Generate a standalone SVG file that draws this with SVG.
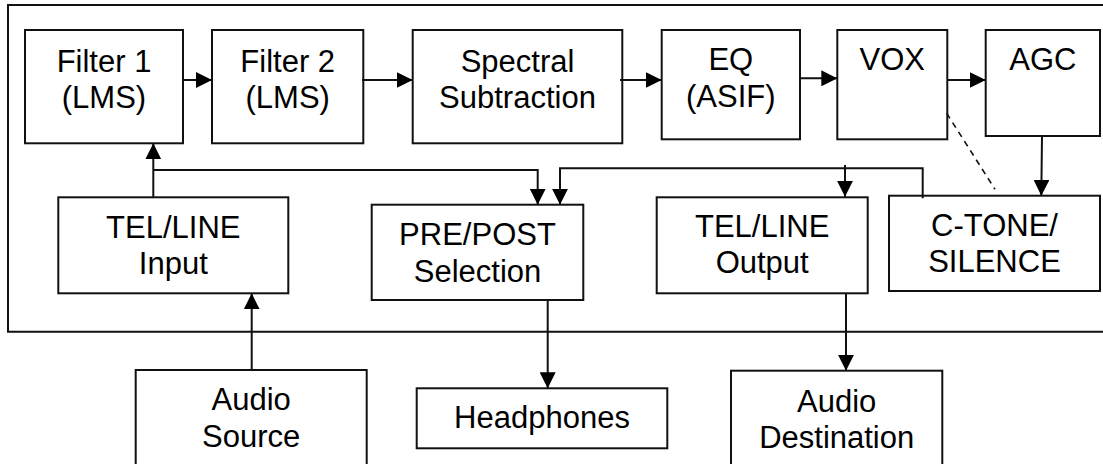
<svg xmlns="http://www.w3.org/2000/svg" width="1103" height="464" viewBox="0 0 1103 464">
<style>
.box{fill:#fff;stroke:#111;stroke-width:2}
.t{font-family:"Liberation Sans",Arial,sans-serif;font-size:31px;fill:#000;text-anchor:middle}
.ln{fill:none;stroke:#111;stroke-width:2}
.ar{fill:none;stroke:#111;stroke-width:2;marker-end:url(#ah)}
.dash{fill:none;stroke:#111;stroke-width:1.6;stroke-dasharray:6 5}
</style>
<defs>
<marker id="ah" markerUnits="userSpaceOnUse" markerWidth="16" markerHeight="16" viewBox="0 0 14 14" refX="14" refY="7" orient="auto">
<path d="M0,0 L14,7 L0,14 Z" fill="#000"/>
</marker>
</defs>
<rect width="1103" height="464" fill="#fff"/>
<path id="frame" class="ln" d="M1106,5 H8 V331.7 H1106"/>
<g id="filter1"><rect class="box" x="25" y="30" width="158" height="113.3"/><text class="t" x="104" y="71.7">Filter 1</text><text class="t" x="104" y="108.3">(LMS)</text></g>
<g id="filter2"><rect class="box" x="212" y="30" width="151.3" height="113.3"/><text class="t" x="287.7" y="71.7">Filter 2</text><text class="t" x="287.7" y="108.3">(LMS)</text></g>
<g id="spectral"><rect class="box" x="412.7" y="30" width="209.6" height="113.3"/><text class="t" x="517.5" y="71.7">Spectral</text><text class="t" x="517.5" y="108.3">Subtraction</text></g>
<g id="eq"><rect class="box" x="661.7" y="30" width="138.3" height="109.3"/><text class="t" x="730.8" y="70">EQ</text><text class="t" x="730.8" y="106.7">(ASIF)</text></g>
<g id="vox"><rect class="box" x="837.3" y="30" width="110" height="109.3"/><text class="t" x="892.3" y="69.5">VOX</text></g>
<g id="agc"><rect class="box" x="985.7" y="30" width="114.3" height="106"/><text class="t" x="1042.8" y="69.5">AGC</text></g>
<g id="telin"><rect class="box" x="58.3" y="197.3" width="230" height="96"/><text class="t" x="173.3" y="238.3">TEL/LINE</text><text class="t" x="173.3" y="274">Input</text></g>
<g id="prepost"><rect class="box" x="371.7" y="204.7" width="211.6" height="95.3"/><text class="t" x="477.5" y="245">PRE/POST</text><text class="t" x="477.5" y="281.7">Selection</text></g>
<g id="telout"><rect class="box" x="656.7" y="197.3" width="211" height="96"/><text class="t" x="762.2" y="237.3">TEL/LINE</text><text class="t" x="762.2" y="273.3">Output</text></g>
<g id="ctone"><rect class="box" x="889" y="195.7" width="211" height="95.3"/><text class="t" x="994.5" y="236">C-TONE/</text><text class="t" x="994.5" y="271.7">SILENCE</text></g>
<g id="audiosrc"><rect class="box" x="135.7" y="370" width="231" height="100"/><text class="t" x="251.2" y="410">Audio</text><text class="t" x="251.2" y="446.7">Source</text></g>
<g id="headphones"><rect class="box" x="416.7" y="388.3" width="250.6" height="60"/><text class="t" x="542" y="428">Headphones</text></g>
<g id="audiodst"><rect class="box" x="731" y="370.7" width="211.3" height="100"/><text class="t" x="836.7" y="411.7">Audio</text><text class="t" x="836.7" y="448.3">Destination</text></g>
<g id="connectors">
<path class="ar" d="M183,80 H212"/>
<path class="ar" d="M362,80 H412.7"/>
<path class="ar" d="M620,80 H661.7"/>
<path class="ar" d="M800,78.3 H837.3"/>
<path class="ar" d="M947.3,80 H985.7"/>
<path class="ar" d="M153.3,197.3 V143.3"/>
<path class="ar" d="M153.3,170 H537.7 V204.7"/>
<path class="ar" d="M922.7,198.3 V168.3 H560 V204.7"/>
<path class="ar" d="M845,165 V196.7"/>
<path class="ar" d="M1042,136 L1041.3,195.7"/>
<path class="dash" d="M946.7,113.3 L995,189.3"/>
<path class="ar" d="M251.7,370 V293.3"/>
<path class="ar" d="M547.7,300 V388.3"/>
<path class="ar" d="M846,293.3 V370.7"/>
</g>
</svg>
